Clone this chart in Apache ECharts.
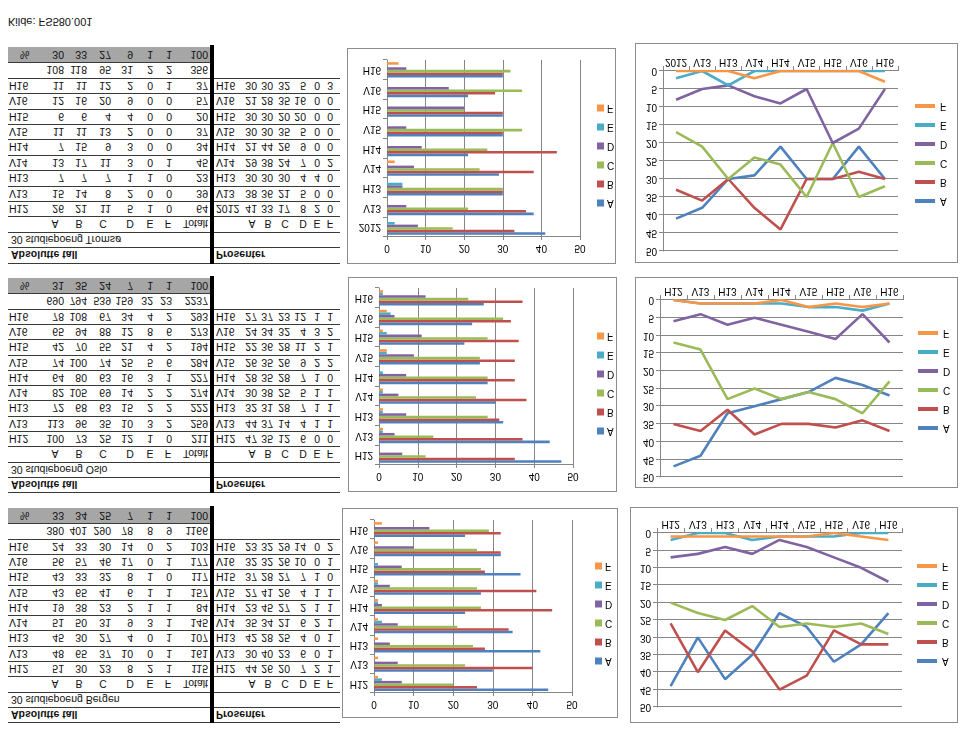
<!DOCTYPE html>
<html>
<head>
<meta charset="utf-8">
<script src="https://cdn.jsdelivr.net/npm/echarts@6/dist/echarts.min.js"></script>
<style>
body{margin:0;background:#fff;font-family:"Liberation Sans",Arial,sans-serif;}
#page{position:relative;width:973px;height:740px;overflow:hidden;background:#fff;}
.txt{position:absolute;font-size:10.5px;white-space:nowrap;color:#111;transform:scaleY(-1);}
.hl{position:absolute;height:1px;background:#3a3a3a;}
.gray{position:absolute;background:#a6a6a6;}
.bar{position:absolute;background:#000;}
.box{position:absolute;border:1px solid #8c8c8c;box-sizing:border-box;transform:scaleY(-1);background:#fff;}
.box .c{width:100%;height:100%;}
</style>
</head>
<body>
<div id="page"></div>
<script>
// terms and grades
var terms = ['H12','V13','H13','V14','H14','V15','H15','V16','H16'];
var termsTromso = ['2012','V13','H13','V14','H14','V15','H15','V16','H16'];
var grades = ['A','B','C','D','E','F'];
var colors = ['#4f81bd','#c0504d','#9bbb59','#8064a2','#4bacc6','#f79646'];

// Tromsø - absolutte tall (A..F per semester)
var tromsoCounts = [[26,21,11,5,1,0],[15,14,8,2,0,0],[7,7,7,1,1,0],[13,17,11,3,0,1],[7,15,9,3,0,0],
                    [11,11,13,2,0,0],[6,6,4,4,0,0],[12,16,20,9,0,0],[11,11,12,2,0,1]];
var tromsoTotals = [64,39,23,45,34,37,20,57,37];
var tromsoSums = [108,118,95,31,2,2,356];
var tromsoShare = [30,33,27,9,1,1,100];
var tromsoPct = [[41,33,17,8,2,0],[38,36,21,5,0,0],[30,30,30,4,4,0],[29,38,24,7,0,2],[21,44,26,9,0,0],
                 [30,30,35,5,0,0],[30,30,20,20,0,0],[21,28,35,16,0,0],[30,30,32,5,0,3]];

// Oslo
var osloCounts = [[100,73,25,12,1,0],[113,96,35,10,3,2],[72,68,63,15,2,2],[82,105,69,14,2,2],[64,80,63,16,3,1],
                  [74,100,74,25,5,6],[42,70,55,21,4,2],[65,94,88,12,8,6],[78,108,67,34,4,2]];
var osloTotals = [211,259,222,274,227,284,194,273,293];
var osloSums = [690,794,539,159,32,23,2237];
var osloShare = [31,35,24,7,1,1,100];
var osloPct = [[47,35,12,6,0,0],[44,37,14,4,1,1],[32,31,28,7,1,1],[30,38,25,5,1,1],[28,35,28,7,1,0],
               [26,35,26,9,2,2],[22,36,28,11,2,1],[24,34,32,4,3,2],[27,37,23,12,1,1]];

// Bergen
var bergenCounts = [[51,30,23,8,2,1],[48,65,37,10,0,1],[45,30,27,4,0,1],[51,50,31,9,3,1],[19,38,23,2,1,1],
                    [43,65,41,6,1,1],[43,33,32,8,1,0],[56,57,46,17,0,1],[24,33,30,14,0,2]];
var bergenTotals = [115,161,107,145,84,157,117,177,103];
var bergenSums = [380,401,290,78,8,9,1166];
var bergenShare = [33,34,25,7,1,1,100];
var bergenPct = [[44,26,20,7,2,1],[30,40,23,6,0,1],[42,28,25,4,0,1],[35,34,21,6,2,1],[23,45,27,2,1,1],
                 [27,41,26,4,1,1],[37,28,27,7,1,0],[32,32,26,10,0,1],[23,32,29,14,0,2]];

var page = document.getElementById('page');

function el(cls, css, text){
  var d = document.createElement('div');
  d.className = cls;
  for (var k in css) d.style[k] = css[k];
  if (text !== undefined) d.textContent = text;
  page.appendChild(d);
  return d;
}
// text placed in picture coordinates, flipped upside down
function txt(s, x, y, h, align, bold){
  var w = 130;
  var css = {top:y+'px', height:h+'px', lineHeight:h+'px', width:w+'px', textAlign:align};
  if (align === 'right') css.left = (x - w) + 'px';
  else if (align === 'center') css.left = (x - w/2) + 'px';
  else css.left = x + 'px';
  if (bold) css.fontWeight = 'bold';
  el('txt', css, s);
}

var absRight = [64,87,111,133,153,172,208];
var absHead = [55,79,103,130,150,168];
var pctRight = [257,273,290,306,320,333];
var pctHead = [252,268,285,303,317,330];

function drawTables(y0, rh, place, counts, totals, sums, share, pct, labels){
  var i, j, r, y;
  el('gray', {left:'8px', top:y0+'px', width:'202px', height:rh+'px'});
  for (r = 1; r <= 14; r++) el('hl', {left:'8px', top:(y0 + r*rh)+'px', width:'202px'});
  for (r = 2; r <= 14; r++) el('hl', {left:'214px', top:(y0 + r*rh)+'px', width:'126px'});
  el('bar', {left:'210px', top:(y0-2)+'px', width:'4px', height:(14*rh+3)+'px'});

  txt('%', 20, y0, rh, 'left');
  for (j = 0; j < 7; j++) txt(String(share[j]), absRight[j], y0, rh, 'right');
  for (j = 0; j < 7; j++) txt(String(sums[j]), absRight[j], y0 + rh, rh, 'right');
  for (i = 0; i < 9; i++) {
    var k = 8 - i;
    y = y0 + (i + 2) * rh;
    txt(terms[k], 9, y, rh, 'left');
    for (j = 0; j < 6; j++) txt(String(counts[k][j]), absRight[j], y, rh, 'right');
    txt(String(totals[k]), absRight[6], y, rh, 'right');
    txt(labels[k], 216, y, rh, 'left');
    for (j = 0; j < 6; j++) txt(String(pct[k][j]), pctRight[j], y, rh, 'right');
  }
  y = y0 + 11 * rh;
  for (j = 0; j < 6; j++) {
    txt(grades[j], absHead[j], y, rh, 'center');
    txt(grades[j], pctHead[j], y, rh, 'center');
  }
  txt('Totalt', 208, y, rh, 'right');
  txt('30 studiepoeng ' + place, 11, y0 + 12 * rh, rh, 'left');
  txt('Absolutte tall', 11, y0 + 13 * rh, rh, 'left', true);
  txt('Prosenter', 216, y0 + 13 * rh, rh, 'left', true);
}

function column(pct, g){
  return pct.map(function(row){ return row[g]; });
}

function box(x0, y0, x1, y1){
  var b = el('box', {left:x0+'px', top:y0+'px', width:(x1-x0)+'px', height:(y1-y0)+'px'});
  var c = document.createElement('div');
  c.className = 'c';
  b.appendChild(c);
  return c;
}

var font = 'Liberation Sans';

function barChart(dom, cats, pct, g){
  var chart = echarts.init(dom, null, {renderer:'canvas'});
  chart.setOption({
    animation:false,
    textStyle:{fontFamily:font, fontSize:10, color:'#000'},
    grid:{left:g.l, right:g.r, top:g.t, bottom:g.b},
    legend:{orient:'vertical', left:g.lx, top:g.ly, itemWidth:7, itemHeight:7, itemGap:9, icon:'rect',
            padding:0, data:grades, textStyle:{fontSize:10, color:'#000', lineHeight:10, padding:[0,0,0,-2]}},
    xAxis:{type:'value', position:'top', min:0, max:50, interval:10,
           axisLine:{show:true, lineStyle:{color:'#868686'}},
           axisTick:{show:true, length:3, lineStyle:{color:'#868686'}},
           axisLabel:{fontSize:10, color:'#000', margin:6},
           splitLine:{show:true, lineStyle:{color:'#868686'}}},
    yAxis:{type:'category', inverse:true, data:cats,
           axisLine:{show:true, lineStyle:{color:'#868686'}},
           axisTick:{show:true, length:4, lineStyle:{color:'#868686'}},
           axisLabel:{fontSize:10, color:'#000', margin:6}},
    series:grades.map(function(name, i){
      return {type:'bar', name:name, data:column(pct, i), barGap:'0%', barCategoryGap:'22%',
              itemStyle:{color:colors[i]}};
    })
  });
}

function lineChart(dom, cats, pct, g){
  var chart = echarts.init(dom, null, {renderer:'canvas'});
  chart.setOption({
    animation:false,
    textStyle:{fontFamily:font, fontSize:10, color:'#000'},
    grid:{left:g.l, right:g.r, top:g.t, bottom:g.b},
    legend:{orient:'vertical', left:g.lx, top:g.ly, itemWidth:20, itemHeight:4, itemGap:9, icon:'rect',
            padding:0, data:grades, textStyle:{fontSize:10, color:'#000', lineHeight:10}},
    xAxis:{type:'category', data:cats, boundaryGap:true,
           axisLine:{show:true, lineStyle:{color:'#868686'}},
           axisTick:{show:true, length:5, lineStyle:{color:'#868686'}},
           axisLabel:{fontSize:10, color:'#000', margin:4, interval:0}},
    yAxis:{type:'value', min:0, max:50, interval:5,
           axisLine:{show:true, lineStyle:{color:'#868686'}},
           axisTick:{show:true, length:4, lineStyle:{color:'#868686'}},
           axisLabel:{fontSize:10, color:'#000', margin:6},
           splitLine:{show:true, lineStyle:{color:'#868686'}}},
    series:grades.map(function(name, i){
      return {type:'line', name:name, data:column(pct, i), showSymbol:false, symbol:'none',
              lineStyle:{width:2.6, color:colors[i]}, itemStyle:{color:colors[i]}};
    })
  });
}

el('txt', {left:'8px', top:'14px', height:'16px', lineHeight:'16px', fontSize:'11px'}, 'Kilde: FS580.001');

drawTables(47, 15.4, 'Tromsø', tromsoCounts, tromsoTotals, tromsoSums, tromsoShare, tromsoPct, termsTromso);
drawTables(278, 15.3, 'Oslo', osloCounts, osloTotals, osloSums, osloShare, osloPct, terms);
drawTables(508, 15.3, 'Bergen', bergenCounts, bergenTotals, bergenSums, bergenShare, bergenPct, terms);

barChart(box(347, 48, 616, 264), termsTromso, tromsoPct, {l:39, r:35, t:26, b:11, lx:249, ly:55});
barChart(box(348, 277, 617, 492), terms, osloPct, {l:30, r:43, t:26, b:10, lx:248, ly:55});
barChart(box(342, 508, 618, 718), terms, bergenPct, {l:31, r:45, t:24, b:11, lx:252, ly:51});

lineChart(box(635, 43, 958, 263), termsTromso, tromsoPct, {l:27, r:59, t:11, b:27, lx:279, ly:56});
lineChart(box(635, 277, 958, 488), terms, osloPct, {l:24, r:54, t:10, b:22, lx:282, ly:54});
lineChart(box(630, 507, 958, 723), terms, bergenPct, {l:26, r:55, t:15, b:25, lx:286, ly:56});
</script>
</body>
</html>
